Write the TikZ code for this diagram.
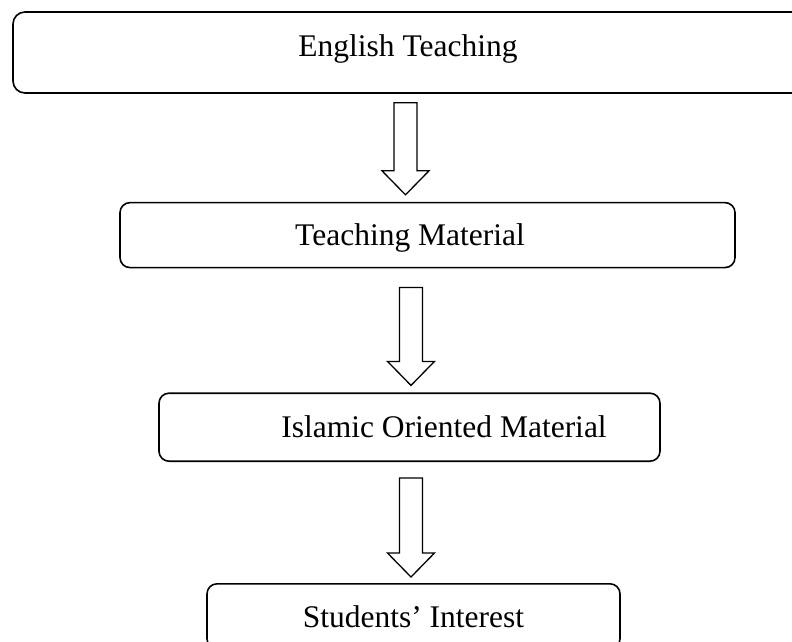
\documentclass[tikz,border=0pt]{standalone}
\usepackage{fontspec}
\setmainfont{Liberation Serif}
\usetikzlibrary{calc,positioning}

% hollow block arrow from a top coordinate down to a tip coordinate
\newcommand{\blockarrow}[2]{%
  \draw[hollow] ($(#1)+(-11.5,0)$) -- ($(#1)+(11.5,0)$) -- ($(#2)+(11.5,24)$)
    -- ($(#2)+(23.5,24)$) -- (#2) -- ($(#2)+(-23.5,24)$) -- ($(#2)+(-11.5,24)$) -- cycle;}

\begin{document}
\begin{tikzpicture}[
  x=1pt, y=1pt,
  font=\fontsize{31.5}{36}\selectfont,
  stage/.style={draw, line width=1.6pt, rounded corners=10pt, inner sep=0pt, align=center},
  hollow/.style={draw, line width=1.3pt, fill=white, line join=miter}
]
  \useasboundingbox (0,0) rectangle (792,-641);
  \clip (0,0) rectangle (792,-641);

  \node[stage, rounded corners=12pt, minimum width=830pt, minimum height=81pt, text depth=14.7pt] (eng) at (428,-52.5) {English Teaching\hspace*{40pt}};
  \node[stage, minimum width=615pt, minimum height=65pt, text depth=1pt, below=108pt of eng, xshift=-0.5pt] (tm) {Teaching Material\hspace*{35pt}};
  \node[stage, minimum width=501pt, minimum height=68pt, below=124pt of tm, xshift=-18pt] (iom) {\hspace*{69pt}Islamic Oriented Material};
  \node[stage, minimum width=413pt, minimum height=65pt, below=121pt of iom, xshift=4pt] (si) {Students’ Interest};

  \coordinate (a1) at ($(eng.south)+(-22.5,-9)$);
  \coordinate (a2) at ($(tm.south)+(-16.5,-19)$);
  \coordinate (a3) at ($(iom.south)+(1.5,-16)$);
  \coordinate (t1) at ($(a1 |- tm.north)+(0,7)$);
  \coordinate (t2) at ($(a2 |- iom.north)+(0,7)$);
  \coordinate (t3) at ($(a3 |- si.north)+(0,6)$);

  \foreach \i in {1,2,3}
    \blockarrow{a\i}{t\i};
\end{tikzpicture}
\end{document}
